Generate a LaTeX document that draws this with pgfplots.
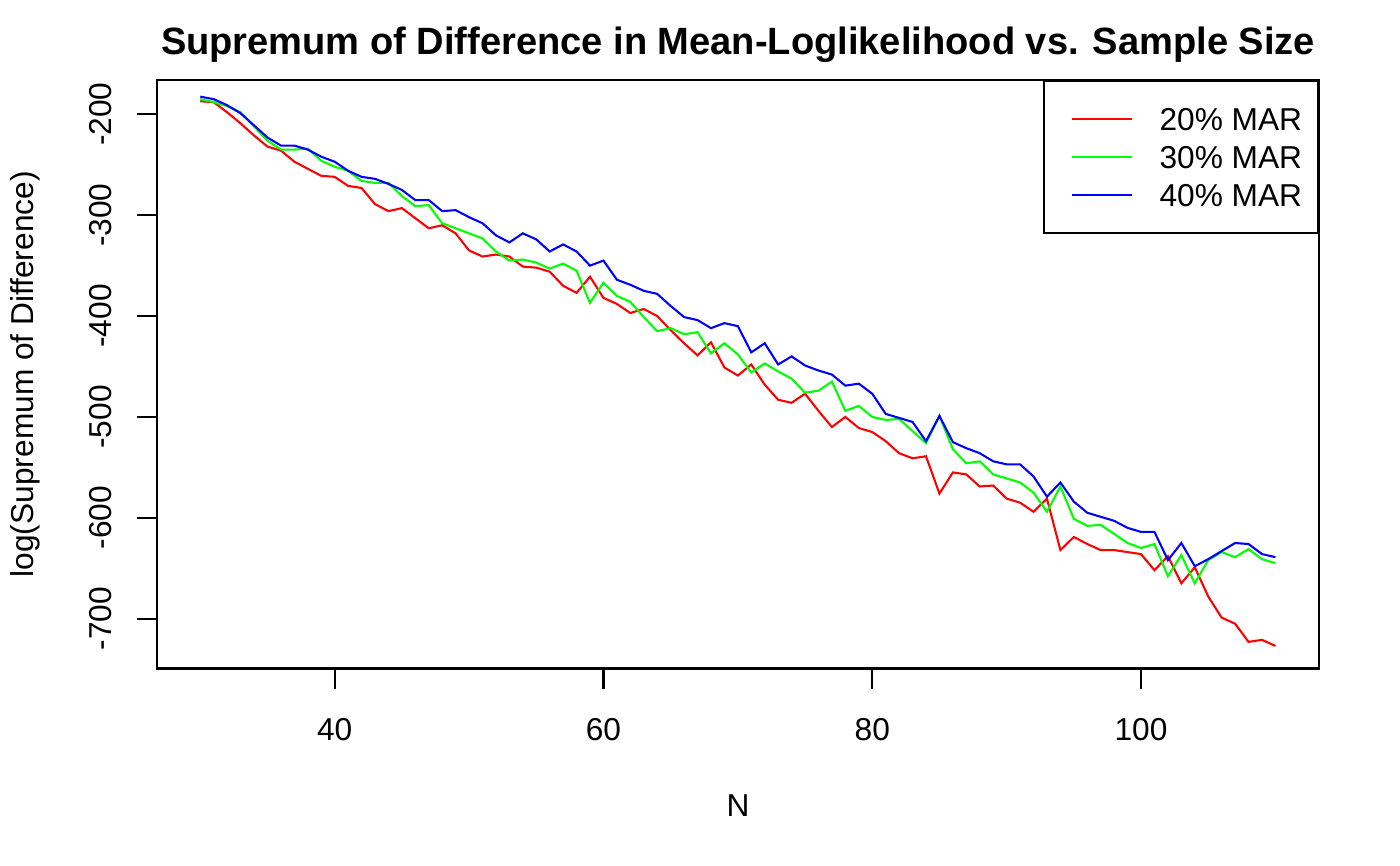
\documentclass[border=0pt]{standalone}
\usepackage{fontspec}
\setmainfont{Liberation Sans}
\usepackage{pgfplots}
\pgfplotsset{compat=1.18}
\usepackage{pgfplotstable}

\pgfplotstableread{
N r g b
30 -187 -185 -182.5
31 -188 -188 -185
32 -198 -192 -191
33 -209 -198 -199
34 -221 -212 -211
35 -232 -226 -223
36 -236 -235 -231
37 -247 -235 -231
38 -254 -234 -235
39 -261 -246 -242
40 -262 -252 -247
41 -271 -256 -256
42 -273 -266 -262
43 -289 -268 -264
44 -296 -268 -269
45 -293 -281 -275
46 -303 -291 -285
47 -313 -290 -285
48 -310 -308 -296
49 -318 -313 -295
50 -335 -318 -302
51 -341 -323 -308
52 -339 -336 -320
53 -341 -345 -327
54 -351 -344 -318
55 -352 -347 -324
56 -356 -353 -336
57 -370 -348 -329
58 -377 -355 -336
59 -361 -387 -350
60 -382 -367 -345
61 -388 -380 -364
62 -397 -386 -369
63 -393 -401 -375
64 -400 -415 -378
65 -414 -412 -390
66 -427 -418 -401
67 -439 -416 -404
68 -426 -437 -412
69 -451 -427 -407
70 -459 -438 -410
71 -448 -456 -436
72 -468 -447 -427
73 -483 -455 -448
74 -486 -462 -440
75 -477 -476 -449
76 -494 -474 -454
77 -510 -465 -458
78 -500 -494 -469
79 -511 -489 -467
80 -515 -500 -477
81 -524 -503 -497
82 -536 -502 -501
83 -541 -514 -505
84 -539 -526 -524
85 -576 -499 -499
86 -555 -532 -525
87 -557 -546 -531
88 -569 -544 -536
89 -568 -557 -544
90 -581 -561 -547
91 -585 -565 -547
92 -594 -575 -559
93 -581 -594 -579
94 -632 -569 -565
95 -619 -601 -584
96 -626 -608 -595
97 -632 -607 -599
98 -632 -616 -603
99 -634 -625 -610
100 -636 -630 -614
101 -652 -626 -614
102 -638 -658 -642
103 -665 -637 -625
104 -649 -665 -648
105 -678 -642 -641
106 -699 -634 -633
107 -705 -639 -625
108 -723 -631 -626
109 -721 -641 -636
110 -727 -645 -639
}\datatable

\begin{document}
\begin{tikzpicture}[font=\fontsize{11.4pt}{13.7pt}\selectfont]
\begin{axis}[
  at={(0,0)}, anchor=south west,
  width=418.32pt, height=211.86pt, scale only axis,
  xmin=26.78, xmax=113.24, ymin=-749.4, ymax=-166.0,
  axis line style={line width=0.75pt, black},
  tick pos=left, tick align=outside,
  major tick length=7.2pt,
  every tick/.style={line width=0.75pt, black},
  xtick={40,60,80,100}, xticklabels={40,60,80,100},
  ytick={-700,-600,-500,-400,-300,-200},
  yticklabels={-700,-600,-500,-400,-300,-200},
  xticklabel style={anchor=base, inner sep=0pt, yshift=-18.7pt},
  yticklabel style={rotate=90, anchor=base, inner sep=0pt},
  yticklabel shift=9pt,
  clip=false,
  legend cell align=left,
  legend image code/.code={\path (0pt,0pt); \draw[#1] (4pt,0pt) -- (25.6pt,0pt);},
  legend style={at={(rel axis cs:1,1)}, anchor=north east, draw=black,
    line width=0.75pt, inner xsep=5.7pt, inner ysep=9.6pt,
    row sep=5.54pt, column sep=9.7pt,
    nodes={inner sep=0pt, text height=8.16pt, text depth=0pt},
    font=\fontsize{11.4pt}{13.7pt}\selectfont},
]
\addplot[color={rgb,255:red,255;green,0;blue,0}, line width=0.75pt] table[x=N, y=r] {\datatable};
\addlegendentry{20\% MAR}
\addplot[color={rgb,255:red,0;green,255;blue,0}, line width=0.75pt] table[x=N, y=g] {\datatable};
\addlegendentry{30\% MAR}
\addplot[color={rgb,255:red,0;green,0;blue,255}, line width=0.75pt] table[x=N, y=b] {\datatable};
\addlegendentry{40\% MAR}
\node[anchor=base, font=\bfseries\fontsize{13.7pt}{16pt}\selectfont] at ([yshift=9.25pt]rel axis cs:0.5,1) {Supremum of Difference in Mean-Loglikelihood vs. Sample Size};
\node[anchor=base] at ([yshift=-53.3pt]rel axis cs:0.5,0) {N};
\node[rotate=90, anchor=base] at ([xshift=-44.6pt]rel axis cs:0,0.5) {log(Supremum of Difference)};
\end{axis}
\pgfresetboundingbox
\path[use as bounding box] (-56.52pt,-70.74pt) rectangle (447.48pt,240.66pt);
\end{tikzpicture}
\end{document}
